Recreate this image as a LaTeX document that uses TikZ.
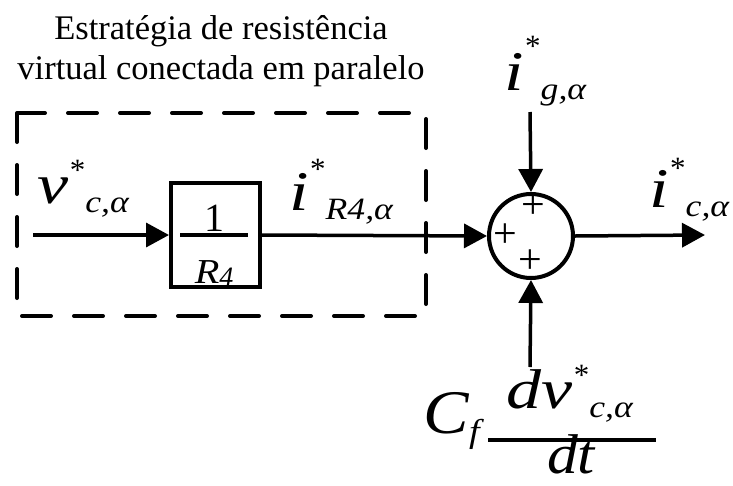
\documentclass[tikz,border=0pt]{standalone}
\usepackage{fontspec}
\setmainfont{Liberation Serif}
\usetikzlibrary{arrows.meta}
\newcommand{\bigfs}{\fontsize{56}{56}\selectfont}
\newcommand{\smfs}{\fontsize{31}{31}\selectfont}
% 信号: 主字母, 星号(可调高度), 下标
\newcommand{\sgnl}[3][23pt]{\scalebox{1.25}[1]{\bigfs\itshape #2}\hspace{1pt}\raisebox{#1}{\smfs *}\raisebox{-9pt}{\scalebox{1.15}[1]{\smfs\itshape #3}}}
\begin{document}
\begin{tikzpicture}[x=1pt,y=-1pt,>={Triangle[length=23pt,width=24pt]},line width=3.5pt]
  \tikzset{
    lbl/.style={anchor=base west,inner sep=0pt},
    plus/.style={inner sep=0pt,font=\fontsize{42}{42}\selectfont}
  }
  \useasboundingbox (0,0) rectangle (733,485);
  \coordinate (in) at (33,235);
  \coordinate (out) at (705,235);
  \coordinate (gin) at (530,112);
  \coordinate (cin) at (530,367);

  % 标题
  \node[align=center,inner sep=0pt,anchor=north,font=\fontsize{34.5}{40}\selectfont] (title) at (221,14)
    {Estratégia de resistência\\virtual conectada em paralelo};

  % 虚线框
  \draw[line width=4pt,line cap=round,dash pattern=on 29pt off 23pt] (17,113) rectangle (426,316);

  % 方框与求和点
  \node[draw,line width=4pt,minimum width=89pt,minimum height=104pt,inner sep=0pt] (blk) at (215.5,235) {};
  \draw[line width=4pt] (180,235) -- (248,235);
  \node[inner sep=0pt,anchor=base,font=\fontsize{40}{40}\selectfont] (one) at (214,231) {1};
  \node[inner sep=0pt,anchor=base west,font=\fontsize{35}{35}\selectfont\itshape] (rfour) at (193,283)
    {\scalebox{1.15}[1]{R}\raisebox{-3pt}{\fontsize{28}{28}\selectfont 4}};
  \node[draw,circle,line width=4pt,minimum size=84pt,inner sep=0pt] (sum) at (531,236) {};
  \node[plus] (p1) at (533,207) {+};
  \node[plus] (p2) at (505,236) {+};
  \node[plus] (p3) at (530,262) {+};

  % 连线
  \draw[->] (in) -- (blk.west);
  \draw[->] (blk.east) -- (sum.west);
  \draw[->] (gin) -- (sum.north);
  \draw[->] (cin) -- (sum.south);
  \draw[->] (sum.east) -- (out);

  % 信号标注
  \node[lbl] (vc) at (36,203) {\sgnl{v}{c,α}};
  \node[lbl] (ir) at (288,210) {\sgnl[31pt]{i}{R4,α}};
  \node[lbl] (ig) at (503,90) {\sgnl[34pt]{i}{g,α}};
  \node[lbl] (ic) at (648,207) {\sgnl[29pt]{i}{c,α}};
  \node[lbl] (cf) at (422,433) {\scalebox{1.1}[1]{\fontsize{62}{62}\selectfont\itshape C}\raisebox{-9pt}{\scalebox{1.15}[1]{\fontsize{33}{33}\selectfont\itshape f}}};
  \draw[line width=4pt] (488,440) -- (656,440);
  \node[lbl] (num) at (505,408) {\sgnl{dv}{c,α}};
  \node[inner sep=0pt,anchor=base,font=\bigfs\itshape] (den) at (571,473) {\scalebox{1.1}[1]{dt}};
\end{tikzpicture}
\end{document}
